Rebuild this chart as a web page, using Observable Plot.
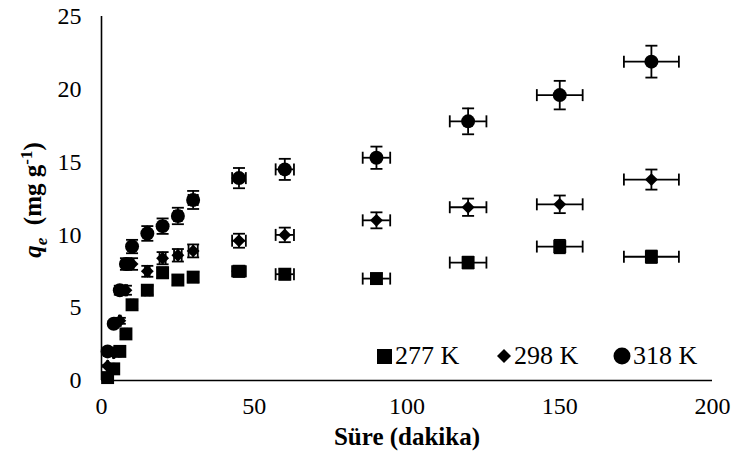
<!DOCTYPE html>
<html>
<head>
<meta charset="utf-8">
<script src="https://cdn.jsdelivr.net/npm/d3@7"></script>
<script src="https://cdn.jsdelivr.net/npm/@observablehq/plot@0.6"></script>
<style>
  html, body { margin: 0; padding: 0; background: white; }
  #wrap { position: relative; width: 737px; height: 462px; }
  .leg { position: absolute; top: 341px; font-family: "Liberation Serif", "Times New Roman", serif; font-size: 26px; color: black; display: flex; align-items: center; white-space: nowrap; }
  .leg svg { margin-right: 2px; }
  .ttl { font-family: "Liberation Serif", "Times New Roman", serif; font-weight: 700; font-size: 25px; fill: black; }
</style>
</head>
<body>
<div id="wrap"></div>
<script>
// ---- data ----
const times = [2, 4, 6, 8, 10, 15, 20, 25, 30, 45, 60, 90, 120, 150, 180];
const q277 = [0.2, 0.8, 2.0, 3.2, 5.2, 6.2, 7.4, 6.9, 7.1, 7.5, 7.3, 7.0, 8.1, 9.2, 8.5];
const q298 = [1.0, 1.9, 4.1, 6.2, 8.0, 7.5, 8.4, 8.6, 8.9, 9.6, 10.0, 11.0, 11.9, 12.1, 13.8];
const q318 = [2.0, 3.9, 6.2, 8.0, 9.2, 10.1, 10.6, 11.3, 12.4, 13.9, 14.5, 15.3, 17.8, 19.6, 21.9];
const seriesNames = ["277 K", "298 K", "318 K"];
const errPct = 0.05; // percentage error bars (both directions)
const xTicks = [0, 50, 100, 150, 200];
const yTicks = [0, 5, 10, 15, 20, 25];
const xTitle = "Süre (dakika)";

const build = (qs, name) => times.map((t, i) => ({t, q: qs[i], s: name}));
const rows = [
  ...build(q277, seriesNames[0]),
  ...build(q298, seriesNames[1]),
  ...build(q318, seriesNames[2])
];

const hcap = {draw(ctx, size) { const r = Math.sqrt(size / Math.PI); ctx.moveTo(-r, 0); ctx.lineTo(r, 0); }};
const vcap = {draw(ctx, size) { const r = Math.sqrt(size / Math.PI); ctx.moveTo(0, -r); ctx.lineTo(0, r); }};

const sym = {"277 K": "square", "298 K": "diamond2", "318 K": "circle"};
const rad = {"277 K": 7.3, "298 K": 5.8, "318 K": 7};

const barW = 1.8;
const chart = Plot.plot({
  width: 737,
  height: 462,
  marginLeft: 101,
  marginRight: 25,
  marginTop: 16,
  marginBottom: 82,
  style: {fontFamily: "'Liberation Serif', 'Times New Roman', serif", fontSize: "24px", color: "black", background: "white"},
  x: {domain: [0, 200], ticks: xTicks, tickSize: 0, tickPadding: 16, label: null},
  y: {domain: [0, 25], ticks: yTicks, tickSize: 0, tickPadding: 20, label: null},
  marks: [
    Plot.ruleY([0], {stroke: "black", strokeWidth: 1.6}),
    Plot.ruleX([0], {stroke: "black", strokeWidth: 1.6}),
    ...seriesNames.map(n => Plot.dot(rows.filter(d => d.s === n), {x: "t", y: "q", symbol: sym[n], r: rad[n], fill: "black", stroke: "none"})),
    Plot.ruleX(rows, {x: "t", y1: d => d.q * (1 - errPct), y2: d => d.q * (1 + errPct), stroke: "black", strokeWidth: barW}),
    Plot.ruleY(rows, {y: "q", x1: d => d.t * (1 - errPct), x2: d => d.t * (1 + errPct), stroke: "black", strokeWidth: barW}),
    Plot.dot(rows, {x: "t", y: d => d.q * (1 + errPct), symbol: hcap, r: 6, stroke: "black", strokeWidth: barW, fill: "none"}),
    Plot.dot(rows, {x: "t", y: d => d.q * (1 - errPct), symbol: hcap, r: 6, stroke: "black", strokeWidth: barW, fill: "none"}),
    Plot.dot(rows, {x: d => d.t * (1 + errPct), y: "q", symbol: vcap, r: 6, stroke: "black", strokeWidth: barW, fill: "none"}),
    Plot.dot(rows, {x: d => d.t * (1 - errPct), y: "q", symbol: vcap, r: 6, stroke: "black", strokeWidth: barW, fill: "none"})
  ]
});

const svg = d3.select(chart);
// x title
svg.append("text")
  .attr("class", "ttl")
  .attr("x", 407).attr("y", 445)
  .attr("text-anchor", "middle")
  .text(xTitle);
// y title with italic q, subscript e, superscript -1
const yt = svg.append("text")
  .attr("class", "ttl")
  .attr("transform", "translate(41,200) rotate(-90)")
  .attr("text-anchor", "middle");
yt.append("tspan").style("font-style", "italic").text("q");
yt.append("tspan").style("font-style", "italic").style("font-size", "17px").attr("dy", 6).text("e");
yt.append("tspan").attr("dy", -6).text("\u00a0 (mg g");
yt.append("tspan").style("font-size", "17px").attr("dy", -9).text("-1");
yt.append("tspan").attr("dy", 9).text(")");

const wrap = document.getElementById("wrap");
wrap.appendChild(chart);

// legend overlay
const legItems = [
  {name: seriesNames[0], left: 376, shape: '<rect x="1" y="1" width="15" height="15" fill="black"/>', w: 17},
  {name: seriesNames[1], left: 496, shape: '<path d="M8,1 L15,8 L8,15 L1,8 Z" fill="black"/>', w: 16},
  {name: seriesNames[2], left: 613, shape: '<circle cx="9" cy="9" r="8.5" fill="black"/>', w: 18}
];
legItems.forEach(it => {
  const d = document.createElement("div");
  d.className = "leg";
  d.style.left = it.left + "px";
  d.innerHTML = `<svg width="${it.w}" height="${it.w}">${it.shape}</svg><span>${it.name}</span>`;
  wrap.appendChild(d);
});
</script>
</body>
</html>
